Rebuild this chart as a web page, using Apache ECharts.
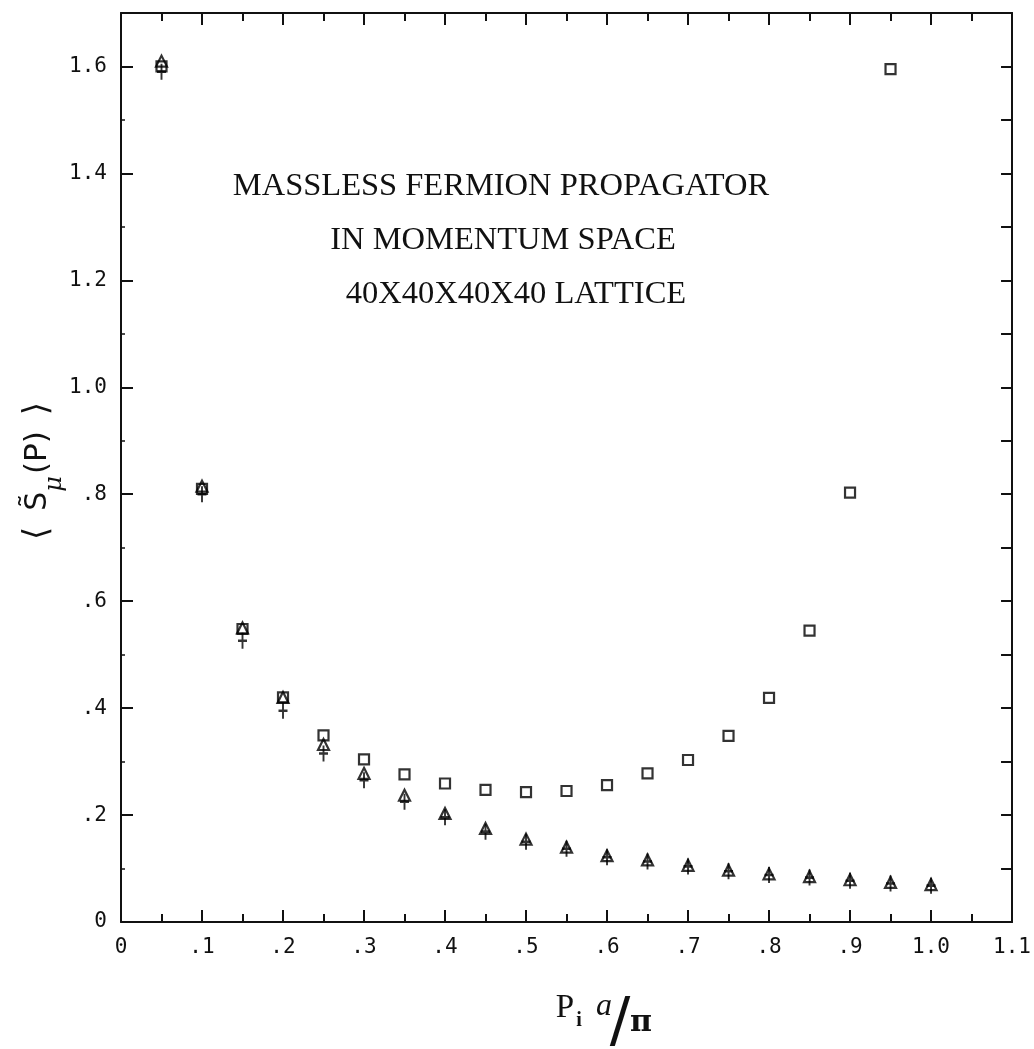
<!DOCTYPE html>
<html>
<head>
<meta charset="utf-8">
<script src="https://cdn.jsdelivr.net/npm/echarts@6/dist/echarts.min.js"></script>
<style>
html,body{margin:0;padding:0;background:#fff;}
#chart{width:1034px;height:1049px;}
</style>
</head>
<body>
<div id="chart"></div>
<script>
const momenta = [0.05,0.10,0.15,0.20,0.25,0.30,0.35,0.40,0.45,0.50,0.55,0.60,0.65,0.70,0.75,0.80,0.85,0.90,0.95,1.00];
const squareVals = [1.600,0.810,0.548,0.420,0.349,0.304,0.276,0.259,0.247,0.243,0.245,0.256,0.278,0.303,0.348,0.419,0.545,0.803,1.595,null];
const triangleVals = [1.610,0.815,0.550,0.420,0.332,0.278,0.237,0.203,0.175,0.155,0.140,0.124,0.116,0.106,0.097,0.090,0.085,0.079,0.074,0.070];
const plusVals = [1.590,0.800,0.526,0.395,0.315,0.265,0.225,0.196,0.169,0.150,0.137,0.121,0.113,0.104,0.095,0.088,0.083,0.077,0.072,0.068];
const xTickLabels = ['0','.1','.2','.3','.4','.5','.6','.7','.8','.9','1.0','1.1'];
const yTickLabels = ['0','.2','.4','.6','.8','1.0','1.2','1.4','1.6'];
const titleLines = ['MASSLESS FERMION PROPAGATOR','IN MOMENTUM SPACE','40X40X40X40 LATTICE'];
const xTitleParts = ['P','i','a','/','π'];
const yTitleText = '{b|⟨}{s|S̃}{m|μ}{p|(P)}{b|⟩}';

function pairs(vals){
  const out = [];
  momenta.forEach((x,i)=>{ if (vals[i] != null) out.push([x, vals[i]]); });
  return out;
}

const chart = echarts.init(document.getElementById('chart'), null, {renderer:'canvas'});
const axisLine = {show:true, onZero:false, lineStyle:{color:'#111', width:2}};
const labelFont = {fontFamily:'DejaVu Sans Mono', fontSize:21, color:'#111'};
function txt(x, y, text, font){
  return {type:'text', x:x, y:y, style:{text:text, font:font, fill:'#111', textAlign:'center', textVerticalAlign:'middle'}};
}

chart.setOption({
  backgroundColor:'#fff',
  animation:false,
  grid:{left:121, right:16, top:13, bottom:127, containLabel:false},
  xAxis:[{
    type:'value', min:0, max:1.1, interval:0.1, position:'bottom',
    axisLine:axisLine,
    axisTick:{show:true, inside:true, length:12, lineStyle:{color:'#111', width:2}},
    minorTick:{show:true, splitNumber:2, length:8, lineStyle:{color:'#111', width:2}},
    splitLine:{show:false},
    axisLabel:Object.assign({margin:15, formatter:v=>xTickLabels[Math.round(v*10)]}, labelFont)
  },{
    type:'value', min:0, max:1.1, interval:0.1, position:'top',
    axisLine:axisLine,
    axisTick:{show:true, inside:true, length:12, lineStyle:{color:'#111', width:2}},
    minorTick:{show:true, splitNumber:2, length:8, lineStyle:{color:'#111', width:2}},
    splitLine:{show:false},
    axisLabel:{show:false}
  }],
  yAxis:[{
    type:'value', min:0, max:1.7, interval:0.2, position:'left',
    axisLine:axisLine,
    axisTick:{show:true, inside:true, length:12, lineStyle:{color:'#111', width:2}},
    minorTick:{show:true, splitNumber:2, length:4, lineStyle:{color:'#111', width:1.5}},
    splitLine:{show:false},
    axisLabel:Object.assign({margin:14, formatter:v=>yTickLabels[Math.round(v*5)]}, labelFont)
  },{
    type:'value', min:0, max:1.7, interval:0.1, position:'right',
    axisLine:axisLine,
    axisTick:{show:true, inside:true, length:11, lineStyle:{color:'#111', width:2}},
    splitLine:{show:false},
    axisLabel:{show:false}
  }],
  graphic:[
    txt(501, 186, titleLines[0], '32.5px "Liberation Serif"'),
    txt(503, 240, titleLines[1], '32.5px "Liberation Serif"'),
    txt(516, 294, titleLines[2], '32.5px "Liberation Serif"'),
    txt(565, 1008, xTitleParts[0], '33px "Liberation Serif"'),
    txt(579, 1021, xTitleParts[1], 'bold 20px "Liberation Serif"'),
    txt(604, 1007, xTitleParts[2], 'italic 32px "Liberation Serif"'),
    txt(620, 1024, xTitleParts[3], '61px "DejaVu Sans"'),
    txt(641, 1023, xTitleParts[4], 'bold 30px "DejaVu Serif"'),
    {type:'text', x:38, y:471, rotation:Math.PI/2,
     style:{text:yTitleText, fill:'#111', textAlign:'center', textVerticalAlign:'middle',
      rich:{
        b:{fontFamily:'DejaVu Sans', fontSize:34, fill:'#111', verticalAlign:'middle', padding:[0,16,0,16]},
        s:{fontFamily:'DejaVu Sans', fontSize:30, fill:'#111', verticalAlign:'middle'},
        m:{fontFamily:'DejaVu Serif', fontStyle:'italic', fontSize:24, fill:'#111', verticalAlign:'bottom', padding:[0,2,-12,0]},
        p:{fontFamily:'DejaVu Sans', fontSize:31, fill:'#111', verticalAlign:'middle'}
      }}}
  ],
  series:[
    {type:'scatter', name:'square', data:pairs(squareVals), symbol:'rect', symbolSize:10,
     itemStyle:{color:'rgba(255,255,255,0)', borderColor:'#000', borderWidth:2.2}},
    {type:'scatter', name:'triangle', data:pairs(triangleVals), symbol:'triangle', symbolSize:[11,11],
     itemStyle:{color:'rgba(255,255,255,0)', borderColor:'#000', borderWidth:2.2}},
    {type:'scatter', name:'plus', data:pairs(plusVals), symbol:'path://M6,0L6,16M0,8L12,8', symbolSize:[12,16], symbolKeepAspect:true,
     itemStyle:{color:'none', borderColor:'#000', borderWidth:2.2}}
  ]
});
</script>
</body>
</html>
